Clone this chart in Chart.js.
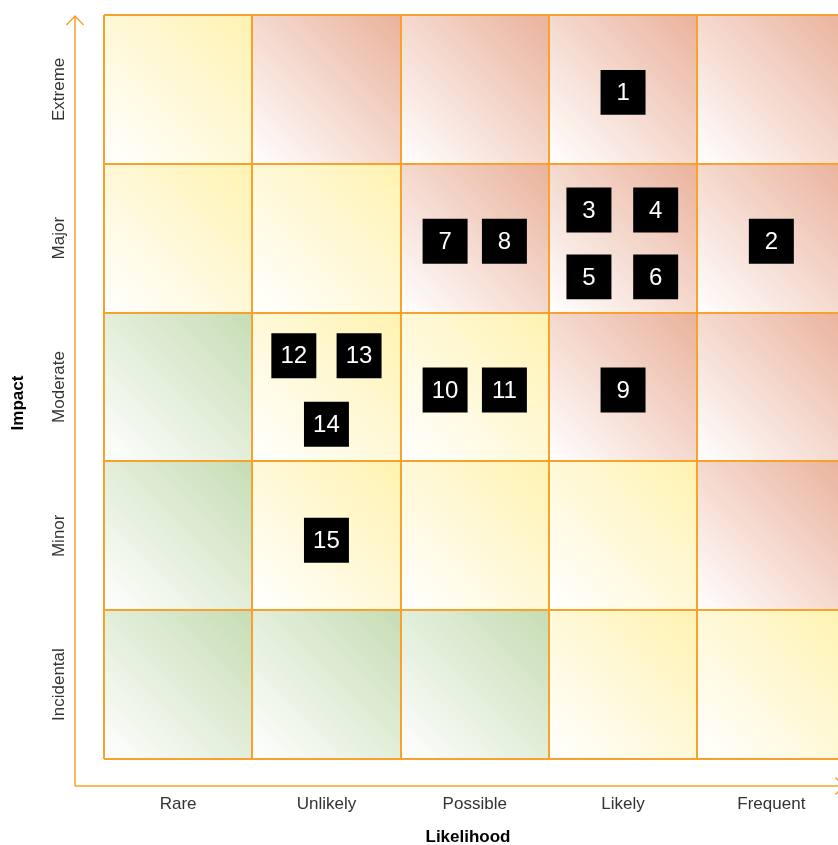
<!DOCTYPE html>
<html>
<head>
<meta charset="utf-8">
<script src="https://cdn.jsdelivr.net/npm/chart.js@4.4.1/dist/chart.umd.min.js"></script>
<style>
  html, body { margin: 0; padding: 0; background: #fff; overflow: hidden; }
  #wrap { width: 860px; height: 845px; }
</style>
</head>
<body>
<div id="wrap"><canvas id="risk" width="860" height="845"></canvas></div>
<script>
// axis categories
var likelihoodLabels = ['Rare', 'Unlikely', 'Possible', 'Likely', 'Frequent'];
var impactLabels = ['Incidental', 'Minor', 'Moderate', 'Major', 'Extreme']; // bottom -> top

// cell levels, rows bottom (Incidental) -> top (Extreme), G/Y/R
var cellLevels = [
    ['G', 'G', 'G', 'Y', 'Y'],
    ['G', 'Y', 'Y', 'Y', 'R'],
    ['G', 'Y', 'Y', 'R', 'R'],
    ['Y', 'Y', 'R', 'R', 'R'],
    ['Y', 'R', 'R', 'R', 'R']
];

// risks placed on the grid (x = likelihood, y = impact, cell units)
var riskIds = ['1', '2', '3', '4', '5', '6', '7', '8', '9', '10', '11', '12', '13', '14', '15'];
var riskX = [3.50, 4.50, 3.27, 3.72, 3.27, 3.72, 2.30, 2.70, 3.50, 2.30, 2.70, 1.28, 1.72, 1.50, 1.50];
var riskY = [4.48, 3.48, 3.69, 3.69, 3.24, 3.24, 3.48, 3.48, 2.48, 2.48, 2.48, 2.71, 2.71, 2.25, 1.47];

var levelColors = { G: '#c6ddb4', Y: '#fff2b0', R: '#eab29c' };
var orange = 'rgb(247,162,44)';

var points = [];
riskIds.forEach(function(id, i) {
    points.push({ x: riskX[i], y: riskY[i] });
});

var cellsPlugin = {
    id: 'cells',
    beforeDraw: function(chart) {
        var ctx = chart.ctx;
        var xs = chart.scales.x, ys = chart.scales.y;
        ctx.save();
        for (var r = 0; r < cellLevels.length; r++) {
            for (var c = 0; c < cellLevels[r].length; c++) {
                var x0 = xs.getPixelForValue(c), x1 = xs.getPixelForValue(c + 1);
                var y0 = ys.getPixelForValue(r), y1 = ys.getPixelForValue(r + 1);
                var g = ctx.createLinearGradient(x0, y0, x1, y1);
                g.addColorStop(0, '#ffffff');
                g.addColorStop(1, levelColors[cellLevels[r][c]]);
                ctx.fillStyle = g;
                ctx.fillRect(x0, y1, x1 - x0, y0 - y1);
            }
        }
        ctx.restore();
    }
};

var textPlugin = {
    id: 'texts',
    afterDatasetsDraw: function(chart) {
        var ctx = chart.ctx;
        var meta = chart.getDatasetMeta(0);
        ctx.save();
        ctx.fillStyle = '#fff';
        ctx.font = '24px "Liberation Sans", Arial, sans-serif';
        ctx.textAlign = 'center';
        ctx.textBaseline = 'middle';
        meta.data.forEach(function(el, i) {
            ctx.fillText(riskIds[i], el.x, el.y + 1);
        });
        ctx.restore();
    },
    afterDraw: function(chart) {
        var ctx = chart.ctx;
        var xs = chart.scales.x, ys = chart.scales.y;
        var area = chart.chartArea;
        var ax = area.left - 29, ay = area.bottom + 27;
        ctx.save();
        // axis arrows
        ctx.strokeStyle = orange;
        ctx.lineWidth = 1.5;
        ctx.beginPath();
        ctx.moveTo(ax, ay);
        ctx.lineTo(ax, area.top + 1);
        ctx.moveTo(ax - 8.5, area.top + 10);
        ctx.lineTo(ax, area.top + 1);
        ctx.lineTo(ax + 8.5, area.top + 10);
        ctx.moveTo(ax, ay);
        ctx.lineTo(area.right - 2, ay);
        ctx.moveTo(area.right - 10, ay - 8.5);
        ctx.lineTo(area.right - 2, ay);
        ctx.lineTo(area.right - 10, ay + 8.5);
        ctx.stroke();

        // tick labels
        ctx.fillStyle = '#333';
        ctx.font = '17px "Liberation Sans", Arial, sans-serif';
        ctx.textAlign = 'center';
        ctx.textBaseline = 'middle';
        likelihoodLabels.forEach(function(l, i) {
            ctx.fillText(l, xs.getPixelForValue(i + 0.5), ay + 18);
        });
        impactLabels.forEach(function(l, i) {
            ctx.save();
            ctx.translate(ax - 16, ys.getPixelForValue(i + 0.5));
            ctx.rotate(-Math.PI / 2);
            ctx.fillText(l, 0, 0);
            ctx.restore();
        });

        // axis titles
        ctx.fillStyle = '#000';
        ctx.font = 'bold 17px "Liberation Sans", Arial, sans-serif';
        ctx.fillText('Likelihood', 468, ay + 51);
        ctx.save();
        ctx.translate(18, 403);
        ctx.rotate(-Math.PI / 2);
        ctx.fillText('Impact', 0, 0);
        ctx.restore();
        ctx.restore();
    }
};

var axisOpts = {
    type: 'linear',
    min: 0,
    max: 5,
    ticks: { display: false, stepSize: 1 },
    grid: { color: orange, lineWidth: 2, drawTicks: false, tickLength: 0 },
    border: { display: false }
};

new Chart(document.getElementById('risk'), {
    type: 'scatter',
    data: {
        datasets: [{
            data: points,
            pointStyle: 'rect',
            pointRadius: 31.8,
            pointHoverRadius: 31.8,
            backgroundColor: '#000',
            borderWidth: 0
        }]
    },
    options: {
        responsive: false,
        animation: false,
        layout: { autoPadding: false, padding: { left: 104, top: 15, right: 14.5, bottom: 86 } },
        scales: { x: axisOpts, y: axisOpts },
        plugins: { legend: { display: false }, tooltip: { enabled: false } }
    },
    plugins: [cellsPlugin, textPlugin]
});
</script>
</body>
</html>
